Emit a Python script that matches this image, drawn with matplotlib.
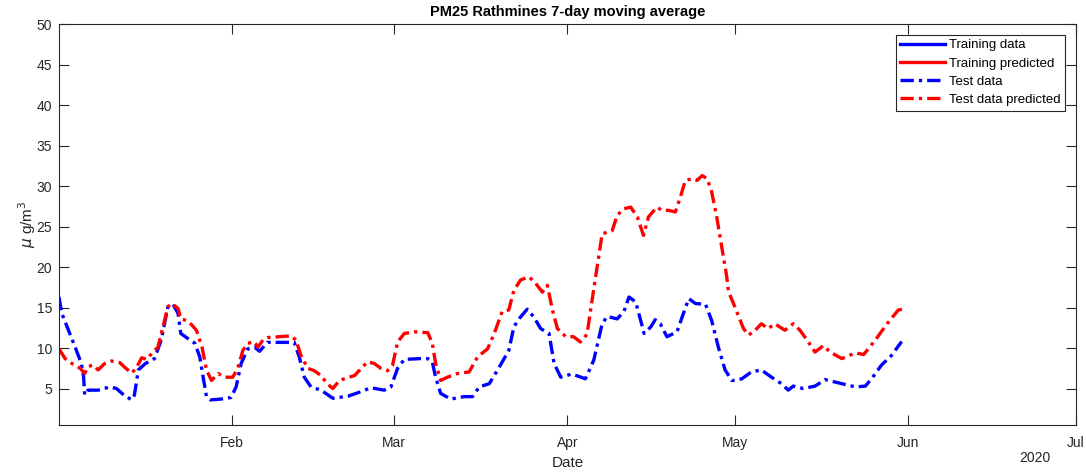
import numpy as np
import matplotlib
matplotlib.use("Agg")
import matplotlib.pyplot as plt

plt.rcParams['font.family'] = ['Liberation Sans', 'DejaVu Sans']

start = np.datetime64('2020-01-01')

# Test data (7-day moving average), day offsets from 1 Jan 2020
test_days = [0, 0.5, 1.7, 2.9, 4.0, 4.4, 4.6, 5.2, 7.0, 9.1, 10.3, 11.6, 13.0, 13.5, 14.2, 15.5,
             17.1, 18.3, 19.5, 20.4, 21.3, 21.8, 23.0, 24.3, 25.2, 25.8, 26.4, 27.1, 29.0, 30.8,
             31.7, 32.6, 33.8, 35.0, 35.9, 37.3, 42.1, 43.0, 43.9, 45.1, 46.9, 49.0, 51.7, 54.0,
             55.8, 58.2, 59.4, 60.6, 61.8, 64.8, 66.0, 66.8, 67.4, 68.3, 70.1, 72.5, 74.0, 75.2,
             77.0, 78.5, 80.5, 81.4, 82.3, 83.8, 85.0, 86.2, 87.7, 88.6, 89.8, 91.8, 94.2, 95.7,
             97.2, 98.1, 99.9, 101.1, 102.0, 103.2, 104.1, 104.7, 105.9, 106.7, 107.6, 108.8,
             110.6, 111.5, 112.7, 113.9, 115.7, 116.8, 118.0, 119.2, 120.4, 121.0, 122.2, 123.9,
             125.7, 127.5, 129.3, 130.5, 131.4, 133.2, 135.3, 137.1, 138.9, 140.7, 142.5, 144.3,
             145.4, 147.2, 149.0, 150.8]
test_vals = [16.3, 14.3, 12.2, 10.1, 8.1, 6.5, 4.2, 4.8, 4.8, 5.2, 5.0, 4.2, 3.6, 4.2, 7.3, 8.1,
             8.7, 11.0, 15.1, 15.4, 14.3, 11.8, 11.2, 10.6, 8.9, 6.4, 4.0, 3.6, 3.7, 3.9,
             5.2, 8.1, 9.9, 10.1, 9.6, 10.7, 10.7, 8.9, 6.4, 5.2, 4.8, 3.8, 4.05, 4.6,
             5.1, 4.8, 5.2, 7.5, 8.6, 8.7, 8.7, 8.3, 6.4, 4.4, 3.7, 4.0, 4.0, 5.2,
             5.6, 7.3, 9.7, 12.6, 13.6, 14.8, 13.8, 12.4, 11.8, 8.1, 6.4, 6.8, 6.2, 8.5,
             13.0, 13.9, 13.6, 14.5, 16.3, 15.7, 13.4, 11.8, 12.6, 13.5, 13.0, 11.4,
             12.0, 13.8, 16.1, 15.5, 15.4, 13.4, 10.1, 7.3, 6.0, 6.0, 6.2, 7.05,
             7.3, 6.4, 5.6, 4.8, 5.3, 5.0, 5.3, 6.1, 5.8, 5.5, 5.2, 5.3,
             6.2, 7.9, 9.1, 10.8]

# Test data predicted
pred_days = [0, 1.1, 2.3, 3.8, 4.6, 5.2, 6.1, 7.0, 8.2, 9.4, 10.9, 11.8, 13.0, 13.9, 14.8, 15.7,
             16.8, 17.7, 18.6, 19.5, 20.2, 21.3, 21.8, 22.8, 23.7, 24.6, 25.6, 26.4, 27.3, 28.5,
             29.6, 31.1, 32.0, 32.9, 33.8, 35.0, 35.6, 36.5, 37.4, 41.5, 42.4, 43.3, 44.5, 45.7,
             46.9, 48.0, 49.0, 50.2, 51.7, 52.9, 54.1, 55.2, 56.4, 57.6, 58.8, 59.7, 60.6, 61.8,
             63.6, 66.0, 66.8, 67.4, 68.3, 69.5, 71.3, 73.4, 74.9, 76.7, 77.9, 79.3, 80.5, 81.4,
             82.6, 84.1, 85.3, 86.5, 87.4, 88.3, 89.2, 90.7, 92.1, 93.3, 94.5, 95.4, 96.3, 97.2,
             98.1, 99.0, 99.9, 101.1, 102.3, 103.5, 104.6, 105.5, 107.0, 107.9, 109.1, 110.3,
             111.2, 112.1, 113.3, 114.2, 115.1, 116.0, 116.8, 117.7, 118.6, 119.5, 119.8, 121.0,
             122.5, 123.4, 124.6, 125.7, 126.9, 128.1, 129.9, 131.4, 132.6, 134.1, 135.3, 136.8,
             138.0, 140.1, 142.5, 144.0, 146.1, 148.2, 150.2, 151.0]
pred_vals = [9.9, 8.7, 8.1, 7.5, 6.85, 7.7, 7.9, 7.3, 8.1, 8.4, 8.2, 7.6, 6.9, 7.6, 8.8, 8.6,
             9.5, 10.1, 12.6, 15.1, 15.5, 14.9, 13.6, 13.4, 12.9, 12.2, 10.1, 7.3, 6.0, 6.85,
             6.4, 6.4, 7.5, 9.7, 10.6, 10.75, 10.1, 11.0, 11.3, 11.5, 11.0, 9.1, 7.5, 7.2,
             6.6, 5.6, 5.0, 6.0, 6.35, 6.6, 7.5, 8.3, 8.1, 7.5, 7.2, 7.9, 10.75, 11.8,
             12.0, 11.9, 10.6, 8.1, 6.0, 6.4, 6.85, 7.05, 8.9, 9.9, 11.8, 14.5, 14.7, 17.1,
             18.4, 18.8, 18.0, 16.9, 17.75, 14.7, 12.4, 11.4, 11.4, 10.75, 11.7, 15.9, 20.0, 24.1,
             24.3, 24.5, 26.4, 27.2, 27.4, 26.2, 23.9, 26.2, 27.4, 27.0, 27.0, 26.8,
             28.65, 30.7, 30.9, 30.7, 31.3, 30.9, 29.3, 26.2, 22.5, 18.8, 17.0, 15.0,
             12.4, 11.6, 12.2, 13.0, 12.4, 13.0, 12.2, 13.0, 12.2, 10.75, 9.5, 10.3,
             9.5, 8.7, 9.4, 9.2, 11.0, 13.0, 14.7, 14.8]

# Training series (not visible in the chart window)
train_days = []
train_vals = []
train_pred_vals = []

month_ticks = ['2020-02-01', '2020-03-01', '2020-04-01', '2020-05-01', '2020-06-01', '2020-07-01']
month_labels = ['Feb', 'Mar', 'Apr', 'May', 'Jun', 'Jul']
y_ticks = [5, 10, 15, 20, 25, 30, 35, 40, 45, 50]


def to_dates(days):
    return [start + np.timedelta64(int(round(d * 24 * 60)), 'm') for d in days]


fig = plt.figure(figsize=(10.86, 4.72), dpi=100)
ax = fig.add_axes([0.0543, 0.0996, 0.9365, 0.8494])

dashdot = (0, (4.0, 1.5, 1.0, 1.5))
lw = 2.4
ax.plot(to_dates(train_days), train_vals, color='#0000ff', lw=lw, ls='-', label='Training data')
ax.plot(to_dates(train_days), train_pred_vals, color='#ff0000', lw=lw, ls='-', label='Training predicted')
ax.plot(to_dates(test_days), test_vals, color='#0000ff', lw=lw, ls=dashdot, label='Test data')
ax.plot(to_dates(pred_days), pred_vals, color='#ff0000', lw=lw, ls=dashdot, label='Test data predicted')

ax.set_xlim(np.datetime64('2020-01-01'), np.datetime64('2020-07-01'))
ax.set_ylim(0.5, 50)
ax.set_xticks([np.datetime64(t) for t in month_ticks])
ax.set_xticklabels(month_labels)
ax.set_yticks(y_ticks)

axc = '#262626'
for s in ax.spines.values():
    s.set_color(axc)
    s.set_linewidth(0.8)
ax.tick_params(direction='in', length=7, width=0.8, colors=axc, labelsize=10,
               top=True, right=True, pad=5)
ax.tick_params(axis='x', pad=8)

ax.set_title('PM25 Rathmines 7-day moving average', fontsize=10.5, fontweight='bold', pad=6)
ax.set_xlabel('Date', fontsize=11, color=axc, labelpad=4)
ax.set_ylabel(r'$\mu$ g/m$^3$', fontsize=11, color=axc, labelpad=-1)
fig.text(1035 / 1086, 1 - 458 / 472, '2020', fontsize=10, color=axc, ha='center', va='center')

leg = ax.legend(loc='upper right', fontsize=9.5, frameon=True, fancybox=False, framealpha=1,
                edgecolor=axc, handlelength=3.4, handletextpad=0.3, borderpad=0.35,
                labelspacing=0.45, borderaxespad=0.8)
leg.get_frame().set_linewidth(0.8)

fig.savefig('out.png', dpi=100)
